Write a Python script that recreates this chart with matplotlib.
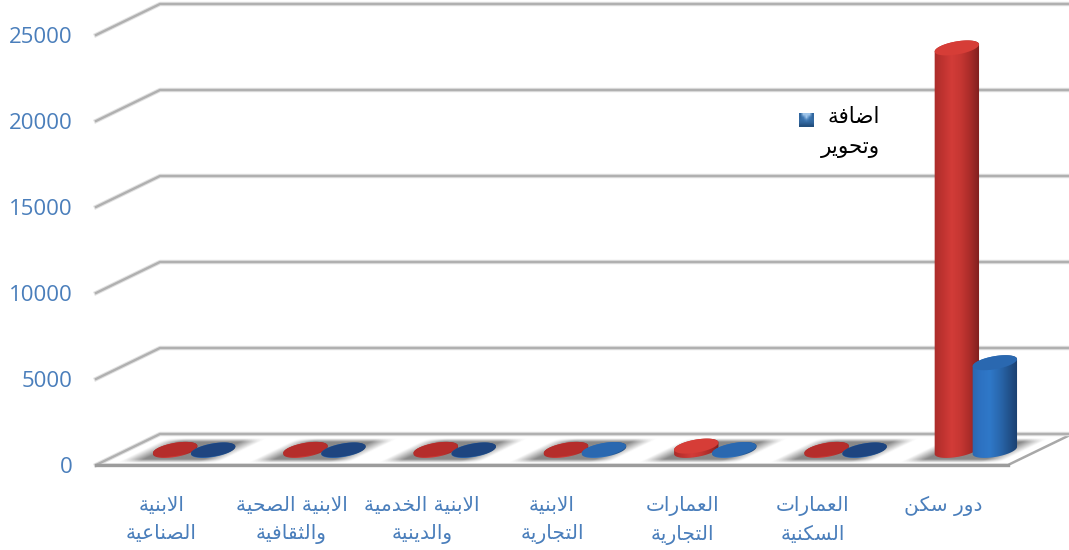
import numpy as np
import matplotlib
matplotlib.use("Agg")
import matplotlib.pyplot as plt
import matplotlib.patheffects as pe
from matplotlib.colors import LinearSegmentedColormap
from matplotlib.patches import Polygon
from matplotlib.transforms import Affine2D

categories = [
    "الابنية\nالصناعية",
    "الابنية الصحية\nوالثقافية",
    "الابنية الخدمية\nوالدينية",
    "الابنية\nالتجارية",
    "العمارات\nالتجارية",
    "العمارات\nالسكنية",
    "دور سكن",
]
red_values = [60, 60, 60, 60, 250, 60, 23400]
blue_values = [25, 25, 25, 50, 50, 25, 5100]
legend_lines = ["اضافة", "وتحوير"]
y_ticks = [0, 5000, 10000, 15000, 20000, 25000]

# isolated, final, initial, medial
FORMS = {
    "ا": "\ufe8d\ufe8e", "د": "\ufea9\ufeaa", "ر": "\ufead\ufeae",
    "و": "\ufeed\ufeee", "ة": "\ufe93\ufe94",
    "ب": "\ufe8f\ufe90\ufe91\ufe92", "ت": "\ufe95\ufe96\ufe97\ufe98",
    "ث": "\ufe99\ufe9a\ufe9b\ufe9c", "ج": "\ufe9d\ufe9e\ufe9f\ufea0",
    "ح": "\ufea1\ufea2\ufea3\ufea4", "خ": "\ufea5\ufea6\ufea7\ufea8",
    "س": "\ufeb1\ufeb2\ufeb3\ufeb4", "ص": "\ufeb9\ufeba\ufebb\ufebc",
    "ض": "\ufebd\ufebe\ufebf\ufec0", "ع": "\ufec9\ufeca\ufecb\ufecc",
    "ف": "\ufed1\ufed2\ufed3\ufed4", "ق": "\ufed5\ufed6\ufed7\ufed8",
    "ك": "\ufed9\ufeda\ufedb\ufedc", "ل": "\ufedd\ufede\ufedf\ufee0",
    "م": "\ufee1\ufee2\ufee3\ufee4", "ن": "\ufee5\ufee6\ufee7\ufee8",
    "ي": "\ufef1\ufef2\ufef3\ufef4",
}


def shape_word(word):
    out = []
    prev_joins = False
    i = 0
    while i < len(word):
        c = word[i]
        forms = FORMS[c]
        if c == "ل" and word[i + 1:i + 2] == "ا":
            out.append("\ufefc" if prev_joins else "\ufefb")
            prev_joins = False
            i += 2
            continue
        next_ok = i + 1 < len(word) and len(forms) == 4
        if prev_joins and next_ok:
            out.append(forms[3])
        elif prev_joins:
            out.append(forms[1])
        elif next_ok:
            out.append(forms[2])
        else:
            out.append(forms[0])
        prev_joins = next_ok
        i += 1
    return "".join(out)


def shape(text):
    # matplotlib has no bidi or joining, so write the lines in visual order
    lines = []
    for line in text.split("\n"):
        words = [shape_word(w)[::-1] for w in line.split(" ")]
        lines.append(" ".join(words[::-1]))
    return "\n".join(lines)


W, H = 1069, 550
LEFT, RIGHT, BOTTOM, TOP = 96, 1008, 465, 35
TEXT_BLUE = "#4a7ebb"

fig = plt.figure(figsize=(W / 100, H / 100), dpi=100)
ax = fig.add_axes([LEFT / W, 1 - BOTTOM / H, (RIGHT - LEFT) / W, (BOTTOM - TOP) / H])
ax.set_xlim(-0.5, 6.5)
ax.set_ylim(0, 25000)

PX_X = 7 / (RIGHT - LEFT)
PX_Y = 25000 / (BOTTOM - TOP)
DEPTH_X = 64 * PX_X
DEPTH_Y = 31 * PX_Y

# floor
x0, x1 = -0.5, 6.5
floor = Polygon([(x0, 0), (x1, 0), (x1 + DEPTH_X, DEPTH_Y), (x0 + DEPTH_X, DEPTH_Y)],
                closed=True, facecolor="white", edgecolor="#a8a8a8", linewidth=1.8,
                clip_on=False, zorder=1)
ax.add_patch(floor)
ax.plot([x0, x1], [0, 0], color="#9c9c9c", lw=2.4, clip_on=False, zorder=1.5)

# walls
halo = [pe.withStroke(linewidth=3.2, foreground="#e2e2e2")]
for v in y_ticks:
    ax.plot([x0, x0 + DEPTH_X, x1 + DEPTH_X], [v, v + DEPTH_Y, v + DEPTH_Y],
            color="#b0b0b0", lw=1.7, clip_on=False, zorder=1, path_effects=halo)

# blurred shadows on the floor
u = np.linspace(-1, 1, 200)
v = np.linspace(-1, 1, 50)
uu, vv = np.meshgrid(u, v)
alpha = np.clip((1 - np.abs(uu)) / 0.4, 0, 1) * np.clip((1 - np.abs(vv)) / 0.3, 0, 1)
alpha = alpha * 0.8
shadow_rgba = np.zeros(alpha.shape + (4,))
shadow_rgba[..., :3] = 0.42
shadow_rgba[..., 3] = alpha
for i in range(len(categories)):
    half = 50 * PX_X
    skew = Affine2D.from_values(2 * half, 0, 0.8 * DEPTH_X, 0.8 * DEPTH_Y,
                                i - half + 0.08 * DEPTH_X, 0.08 * DEPTH_Y)
    im = ax.imshow(shadow_rgba, extent=(0, 1, 0, 1), origin="lower", aspect="auto",
                   transform=skew + ax.transData, zorder=2, interpolation="bilinear")
    im.set_clip_on(False)

RX, RY, TILT = 22.5, 6.5, np.radians(10)
red_cmap = LinearSegmentedColormap.from_list(
    "red", ["#a82c2a", "#bf3330", "#d23c38", "#c53632", "#a82b29", "#7d1f1e"])
blue_cmap = LinearSegmentedColormap.from_list(
    "blue", ["#2a65ad", "#2d72c2", "#2f78c8", "#2a69b0", "#22548f", "#1b3f6e"])
grad = np.linspace(0, 1, 128)[None, :]


def ellipse(xc, yc, t):
    ex = RX * np.cos(t) * np.cos(TILT) - RY * np.sin(t) * np.sin(TILT)
    ey = RX * np.cos(t) * np.sin(TILT) + RY * np.sin(t) * np.cos(TILT)
    return xc + ex * PX_X, yc + ey * PX_Y


def cylinder(xc, value, cmap, top_color, z):
    base = 0.47 * DEPTH_Y
    top = base + value
    t0 = np.arctan2(-RY * np.sin(TILT), RX * np.cos(TILT))
    up = np.linspace(t0, t0 + np.pi, 40)
    down = np.linspace(t0 + np.pi, t0 + 2 * np.pi, 40)
    xa, ya = ellipse(xc, top, up)
    xb, yb = ellipse(xc, base, down)
    outline = Polygon(np.column_stack([np.r_[xa, xb], np.r_[ya, yb]]), closed=True,
                      facecolor="none", edgecolor="none", clip_on=False, zorder=z)
    ax.add_patch(outline)
    half = (RX + 1) * PX_X
    body = ax.imshow(grad, cmap=cmap, extent=(xc - half, xc + half, base - 1000, top + 1000),
                     aspect="auto", zorder=z, interpolation="bilinear")
    body.set_clip_box(fig.bbox)
    body.set_clip_path(outline)
    t = np.linspace(0, 2 * np.pi, 80)
    xt, yt = ellipse(xc, top, t)
    ax.add_patch(Polygon(np.column_stack([xt, yt]), closed=True, facecolor=top_color,
                         edgecolor="none", clip_on=False, zorder=z + 0.1))


for i, (r, b) in enumerate(zip(red_values, blue_values)):
    # taller stubs catch the light, the flattest ones stay dark
    r_top = "#d63d37" if r > 100 else "#b52d2b"
    b_top = "#1e4580" if b < 40 else "#2a68b0"
    cylinder(i + 14 * PX_X, r, red_cmap, r_top, 3 + i * 0.01)
    cylinder(i + 52 * PX_X, b, blue_cmap, b_top, 4 + i * 0.01)

ax.set_xlim(-0.5, 6.5)
ax.set_ylim(0, 25000)

for s in ax.spines.values():
    s.set_visible(False)
ax.patch.set_alpha(0)

ax.set_yticks(y_ticks)
ax.set_yticklabels([str(v) for v in y_ticks], family="Open Sans", fontsize=16, color=TEXT_BLUE)
ax.tick_params(axis="y", length=0, pad=17)

ax.set_xticks(range(len(categories)))
ax.set_xticklabels([shape(c) for c in categories], family="DejaVu Sans", fontsize=14.5,
                   color=TEXT_BLUE, linespacing=1.6, va="top")
ax.tick_params(axis="x", length=0, pad=22)

# legend: blue key beside the wrapped label
fig.text(880 / W, 1 - 117 / H, shape(legend_lines[0]), ha="right", va="center", fontsize=15.5,
         family="DejaVu Sans", color="black")
fig.text(880 / W, 1 - 148 / H, shape(legend_lines[1]), ha="right", va="center", fontsize=15.5,
         family="DejaVu Sans", color="black")
key = fig.add_axes([799 / W, 1 - 127 / H, 15 / W, 14 / H])
key_shade = np.array([[0.3, 0.95, 0.95, 0.95, 0.3],
                      [0.3, 0.55, 0.95, 0.55, 0.3],
                      [0.35, 0.4, 0.55, 0.4, 0.35],
                      [0.25, 0.25, 0.25, 0.25, 0.25],
                      [0.0, 0.0, 0.0, 0.0, 0.0]])
key.imshow(key_shade, cmap=LinearSegmentedColormap.from_list("k", ["#23507f", "#3d78b5", "#a9cdf0"]),
           aspect="auto", interpolation="bilinear", vmin=0, vmax=1)
key.set_axis_off()

fig.savefig("out.png", dpi=100)
